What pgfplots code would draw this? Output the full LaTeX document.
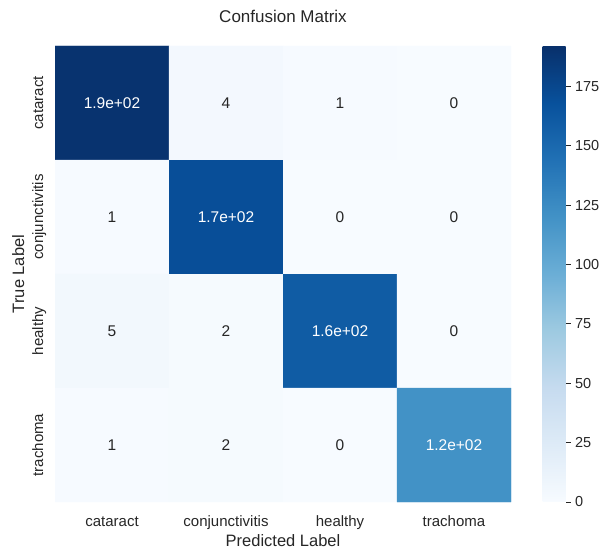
\documentclass[border=0pt]{standalone}
\usepackage{pgfplots}
\usepackage{pgfplotstable}
\usepackage{fontspec}
\setmainfont{Liberation Sans}
\pgfplotsset{compat=1.18}

\definecolor{textdark}{HTML}{262626}

% counts: x = predicted class, y = true class, w = 1 for light text on dark cells
\pgfplotstableread{
x y c lab w
0 0 190 1.9e+02 1
1 0 4 4 0
2 0 1 1 0
3 0 0 0 0
0 1 1 1 0
1 1 170 1.7e+02 1
2 1 0 0 0
3 1 0 0 0
0 2 5 5 0
1 2 2 2 0
2 2 160 1.6e+02 1
3 2 0 0 0
0 3 1 1 0
1 3 2 2 0
2 3 0 0 0
3 3 120 1.2e+02 1
}\cmtable

\begin{document}
\begin{tikzpicture}
\useasboundingbox (0,0) rectangle (604pt,548pt);
\begin{axis}[
  at={(55pt,46pt)}, anchor=south west,
  scale only axis, width=456pt, height=456pt,
  xmin=-0.5, xmax=3.5, ymin=-0.5, ymax=3.5,
  y dir=reverse, enlargelimits=false,
  axis line style={draw=none},
  major tick length=0pt,
  xtick={0,1,2,3}, ytick={0,1,2,3},
  xticklabels={cataract,conjunctivitis,healthy,trachoma},
  yticklabels={cataract,conjunctivitis,healthy,trachoma},
  xticklabel style={font=\fontsize{15}{18}\selectfont, text=textdark, anchor=base, yshift=-24pt},
  yticklabel style={font=\fontsize{15}{18}\selectfont, text=textdark, xshift=-12pt, rotate=90, anchor=base},
  every axis title/.style={at={(rel axis cs:0.5,1)}, anchor=base, yshift=23pt,
    font=\fontsize{17}{20}\selectfont, text=textdark},
  every axis x label/.style={at={(rel axis cs:0.5,0)}, anchor=base, yshift=-44pt,
    font=\fontsize{16.5}{19}\selectfont, text=textdark},
  every axis y label/.style={at={(rel axis cs:0,0.5)}, xshift=-31pt, rotate=90, anchor=base,
    font=\fontsize{16.5}{19}\selectfont, text=textdark},
  title={Confusion Matrix},
  xlabel={Predicted Label},
  ylabel={True Label},
  colormap={blues}{rgb255(0)=(247,251,255) rgb255(1)=(222,235,247) rgb255(2)=(198,219,239)
    rgb255(3)=(158,202,225) rgb255(4)=(107,174,214) rgb255(5)=(66,146,198)
    rgb255(6)=(33,113,181) rgb255(7)=(8,81,156) rgb255(8)=(8,48,107)},
  point meta min=0, point meta max=192,
  colorbar,
  colorbar/width=23pt,
  colorbar style={
    at={(parent axis.north east)}, anchor=north west, xshift=23pt,
    scale only axis, height=456pt,
    axis line style={draw=none},
    ytick={0,25,50,75,100,125,150,175},
    ytick pos=right, yticklabel pos=right,
    tick align=outside, major tick length=5pt,
    tick style={color=textdark, line width=0.9pt},
    /pgf/number format/assume math mode=true,
    yticklabel style={font=\fontsize{14.5}{17}\selectfont, text=textdark, xshift=1pt},
  },
]
\addplot[matrix plot*, mesh/cols=4, point meta=explicit] table[x=x, y=y, meta=c] {\cmtable};
% cell annotations: light text on the dark diagonal, dark text elsewhere
\addplot[draw=none, mark=none, point meta=explicit symbolic,
  nodes near coords, nodes near coords align=center,
  x filter/.expression={\thisrow{w}==1 ? x : nan},
  every node near coord/.append style={font=\fontsize{15.5}{18}\selectfont, anchor=center, text=white}]
  table[x=x, y=y, meta=lab] {\cmtable};
\addplot[draw=none, mark=none, point meta=explicit symbolic,
  nodes near coords, nodes near coords align=center,
  x filter/.expression={\thisrow{w}==0 ? x : nan},
  every node near coord/.append style={font=\fontsize{15.5}{18}\selectfont, anchor=center, text=textdark}]
  table[x=x, y=y, meta=lab] {\cmtable};
\end{axis}
\end{tikzpicture}
\end{document}
